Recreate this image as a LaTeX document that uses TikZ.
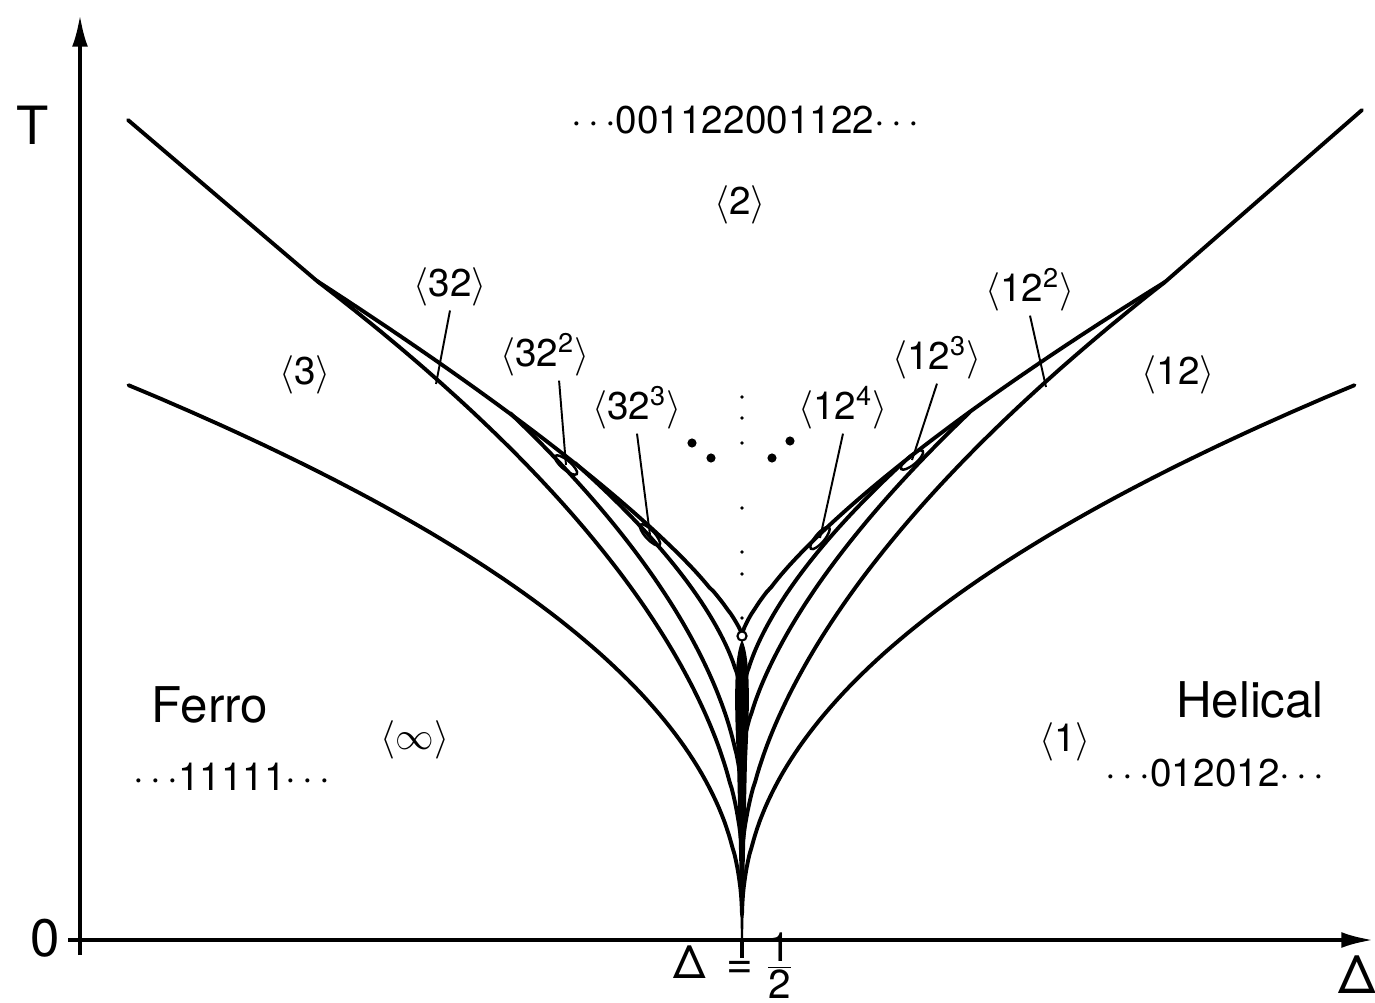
\documentclass[tikz,border=0pt]{standalone}
\usepackage{fontspec}
\setmainfont{TeX Gyre Heros}
\usetikzlibrary{arrows.meta}

\newcommand{\phase}[1]{$\langle$#1$\rangle$}

\begin{document}
\begin{tikzpicture}[
    x=0.01cm, y=-0.01cm,
    curve/.style={line width=1.1pt, line join=round, line cap=round},
    branch/.style={curve, domain=0.01:1, samples=80, variable=\s},
    leader/.style={line width=0.55pt},
    axis/.style={line width=1pt, -{Latex[length=9pt,width=4.5pt]}},
    phase/.style={font=\fontsize{11}{13}\selectfont, inner sep=1pt},
    word/.style={font=\fontsize{14}{16}\selectfont, inner sep=1pt},
    axlabel/.style={font=\fontsize{15}{17}\selectfont, inner sep=1pt},
    lens/.style={line width=0.7pt}
]
    \useasboundingbox (0,0) rectangle (1375,1003);

    % axes
    \coordinate (ybot) at (80,955);
    \coordinate (ytop) at (80,15);
    \coordinate (xbeg) at (68,940);
    \coordinate (xend) at (1373,940);
    \coordinate (cusp) at (742,940);
    \coordinate (tick) at (742,958);
    \draw[axis] (ybot) -- (ytop);
    \draw[axis] (xbeg) -- (xend);
    \draw[line width=1pt] (cusp) -- (tick);

    \node[axlabel] (T) at (33,125) {T};
    \node[axlabel] (zero) at (45,938) {0};
    \node[inner sep=0pt, anchor=south] (half) at (734,999)
        {{\fontsize{13}{15}\selectfont Δ\hspace{6pt}=\hspace{3pt}}{\fontsize{11.5}{13}\selectfont$\frac{\textrm{1}}{\textrm{2}}$}};
    \node[axlabel] (Delta) at (1357,975) {Δ};

    % triple points where the boundaries split
    \coordinate (splitL) at (317,281);
    \coordinate (splitR) at (1165,282);
    \coordinate (topL) at (128,120);
    \coordinate (topR) at (1362,110);

    % left boundaries
    \draw[branch] plot ({742-614*pow(\s,2.1)}, {920-535*\s});
    \draw[branch] plot ({742-425*pow(\s,1.29)}, {635-354*\s});
    \draw[curve] (splitL) -- (topL);
    \draw[branch] plot ({742-425*pow(\s,1.78)}, {860-579*\s});
    \draw[branch] plot ({742-232*pow(\s,1.75)}, {800-387*\s});
    \draw[branch] plot ({742-167*pow(\s,1.6)}, {700-237*\s});

    % right boundaries
    \draw[branch] plot ({742+613*pow(\s,2.1)}, {920-535*\s});
    \draw[branch] plot ({742+423*pow(\s,1.35)}, {635-353*\s});
    \draw[curve] (splitR) -- (topR);
    \draw[branch] plot ({742+423*pow(\s,1.75)}, {860-578*\s});
    \draw[branch] plot ({742+228*pow(\s,1.6)}, {760-348*\s});
    \draw[branch] plot ({742+163*pow(\s,1.6)}, {700-239*\s});

    % central spine
    \fill (742,640) .. controls (734,655) and (734,700) .. (737,760) -- (741,940) -- (743,940) -- (747,760) .. controls (750,700) and (750,655) .. (742,640) -- cycle;
    \draw[line width=0.6pt, fill=white] (742,636) circle[radius=1.3pt];

    % small lenses at the leader ends
    \coordinate (e32) at (436,384);
    \coordinate (e322) at (566,465);
    \coordinate (e323) at (650,535);
    \coordinate (e124) at (820,538);
    \coordinate (e123) at (912,460);
    \coordinate (e122) at (1046,387);
    \draw[lens] (e322) ellipse [x radius=4pt, y radius=1.3pt, rotate=-40];
    \draw[lens] (e323) ellipse [x radius=4pt, y radius=1.3pt, rotate=-47];
    \draw[lens] (e123) ellipse [x radius=4pt, y radius=1.3pt, rotate=40];
    \draw[lens] (e124) ellipse [x radius=4pt, y radius=1.3pt, rotate=50];

    % dotted middle line and dots
    \foreach \y in {397,418,443,508,552,574,618}
        \fill (742,\y) circle[radius=0.55pt];
    \foreach \p in {(692,443),(711,458),(772,458),(790,441)}
        \fill \p circle[radius=1.3pt];

    % phase labels
    \node[phase] (seq2) at (745,120) {$\cdots$001122001122$\cdots$};
    \node[phase] (p2) at (740,205) {\phase{2}};
    \node[phase] (p3) at (305,375) {\phase{3}};
    \node[phase] (p12) at (1178,375) {\phase{12}};
    \node[phase] (p32) at (450,287) {\phase{32}};
    \node[phase] (p322) at (545,355) {\phase{32\textsuperscript{2}}};
    \node[phase] (p323) at (637,408) {\phase{32\textsuperscript{3}}};
    \node[phase] (p124) at (843,408) {\phase{12\textsuperscript{4}}};
    \node[phase] (p123) at (937,358) {\phase{12\textsuperscript{3}}};
    \node[phase] (p122) at (1030,290) {\phase{12\textsuperscript{2}}};
    \node[word] (ferro) at (210,705) {Ferro};
    \node[phase] (pinf) at (415,740) {\phase{$\infty$}};
    \node[phase] (seqf) at (232,777) {$\cdots$11111$\cdots$};
    \node[word] (helical) at (1250,700) {Helical};
    \node[phase] (p1) at (1065,742) {\phase{1}};
    \node[phase] (seqh) at (1215,773) {$\cdots$012012$\cdots$};

    % leaders
    \draw[leader] (p32.south) -- (e32);
    \draw[leader] ([xshift=4pt]p322.south) -- (e322);
    \draw[leader] (p323.south) -- (e323);
    \draw[leader] (p124.south) -- (e124);
    \draw[leader] (p123.south) -- (e123);
    \draw[leader] (p122.south) -- (e122);
\end{tikzpicture}
\end{document}
